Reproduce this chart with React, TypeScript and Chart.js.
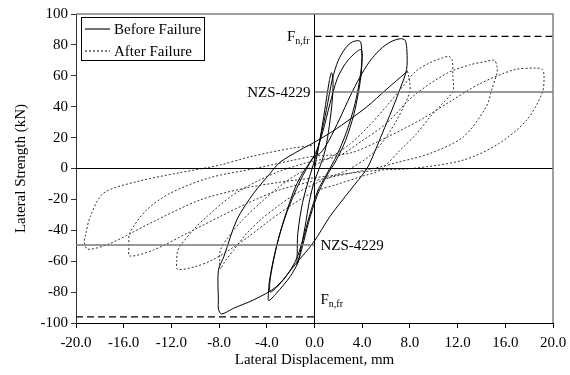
import React, { useEffect, useRef } from 'react';
import { Chart, registerables } from 'chart.js';

Chart.register(...registerables);

// ---- Data ----
const X_MIN = -20;
const X_MAX = 20;
const X_STEP = 4;
const Y_MIN = -100;
const Y_MAX = 100;
const Y_STEP = 20;

const SERIES_BEFORE = 'Before Failure';
const SERIES_AFTER = 'After Failure';

const BEFORE_X = [
  0, 0.3, 0.7, 1.0, 1.25, 1.42, 1.55, 1.5, 1.25, 0.9, 0.4, 0, -0.4, -0.8, -1.2, -1.45, -1.45, -1.4, -1.0, -0.4, 0,
  0.5, 1.0, 1.5, 2.0, 2.6, 3.2, 3.8, 3.95, 3.95, 3.7, 3.3, 2.6, 1.8, 1.0, 0.2, -0.5, -1.0, -1.4, -2.05, -3.2, -3.85, -3.85, -3.8, -3.45, -2.9, -2.3, -1.6, -1.0, -0.3, 0.2,
  0.7, 1.3, 1.9, 2.6, 3.3, 3.9, 4.0, 3.8, 3.4, 2.7, 1.9, 1.0, 0.3, -0.4, -1.0, -1.6, -2.4, -3.2, -3.7, -3.75, -3.5, -3.0, -2.3, -1.5, -0.8, 0,
  0.5, 1.2, 2.1, 3.0, 3.8, 4.6, 5.5, 6.4, 7.2, 7.6, 7.75, 7.72, 7.2, 6.5, 5.7, 5.0, 4.4, 3.0, 1.3, -0.1, -1.5, -3.2, -5.1, -6.8, -7.8, -8.05, -8.06, -8.06, -7.6, -6.5, -5.1, -3.7, -2.9, -1.2, 0, 1.5, 3.0, 4.4, 6.0, 7.2, 7.8,
];
const BEFORE_Y = [
  0, 12, 30, 45, 57, 62, 58, 45, 28, 12, 0, -8, -20, -38, -54, -62, -55, -42, -22, -5, 5,
  20, 38, 58, 70, 78, 82, 82.5, 78, 64, 50, 35, 18, 5, -5, -18, -35, -50, -61, -70, -80.8, -85.5, -80, -74, -59, -42, -27, -12, -3, 5, 12,
  24, 42, 58, 68, 74, 77, 72, 58, 42, 24, 9, -4, -14, -30, -47, -60, -70, -77, -80, -74, -62, -45, -28, -13, -2, 8,
  10, 18, 32, 47, 59, 69, 77, 82, 84, 83, 76, 64, 52, 38, 23, 10, 0, -14, -31, -48, -61, -76.5, -85, -90.5, -94.2, -91, -85, -66, -57, -33, -16, -3, 4, 12, 17, 24, 32, 40, 51, 59, 63,
];

const AFTER_X = [
  7.8, 7.95, 8.0, 7.6, 6.8, 5.8, 4.6, 3.0, 1.5, 0, -1.5, -3, -4.5, -5.8, -6.8, -7.5, -7.9, -7.95, -7.9, -7.3, -6, -4.5, -3, -1.5, 0,
  1.5, 3, 4.5, 6, 7.5, 8.5, 9.7, 10.7, 11.3, 11.55, 11.6, 11.6, 10.6, 9.7, 8.5, 7.2, 5.5, 4, 2, 0, -2, -4, -5.5, -7, -8.5, -10, -11.5, -11.55, -11.5, -11.3, -10.2, -9, -7, -5, -3, -1, 0,
  2, 4, 6, 8.3, 11.1, 13, 14.5, 15.1, 15.3, 15.3, 14.9, 14.4, 12.5, 9.7, 7, 5.5, 3, 0, -3, -5.5, -7.9, -10.7, -13.5, -15.5, -15.55, -15.5, -14.1, -12.1, -8.8, -5, -2, 0,
  3, 6, 9, 11.5, 13.9, 16.7, 18.5, 19.1, 19.25, 19.1, 17.8, 15.5, 12.5, 8.3, 5.5, 2, 0, -3, -6, -9.6, -13.8, -17.1, -19, -19.3, -19.2, -18.8, -17.7, -14.9, -11.3, -7.9, -5.4, -2, 0,
];
const AFTER_Y = [
  63, 58, 50, 42, 30, 18, 8, 0, -5, -10, -16, -24, -33, -43, -53, -60, -65, -60, -53, -45, -33, -22, -12, -4, 2,
  8, 16, 27, 40, 54, 63, 68.5, 71.5, 72.5, 70, 60, 50, 41, 33.5, 22, 12, -1, -5, -10, -15, -24, -35, -44, -52, -59, -63.5, -65.2, -60, -54, -50.6, -40, -31, -18, -9, -2, 3, 5,
  8, 18, 29, 47, 61.6, 67, 69.5, 70, 66, 61.6, 52, 40, 20.6, 9.8, 4, 1, -3, -8, -14, -22, -31, -42, -52.7, -56.6, -50, -42, -27, -16, -6, 0, 5, 8,
  10, 20, 32, 44, 55, 63.8, 65, 64.2, 60, 49, 31.4, 16.3, 5.5, 0.1, -1, -4, -6, -9, -13, -20.4, -35.5, -48.4, -52.3, -48, -43, -31, -16, -8.5, -2.7, 2.3, 7.6, 13, 15,
];

// Reference levels
const NZS_LEVEL = 49.5;
const FNFR_UPPER = 85.5;
const FNFR_LOWER = -96;
const NZS_LABEL = 'NZS-4229';
const F_MAIN = 'F';
const F_SUB = 'n,fr';

const X_TITLE = 'Lateral Displacement, mm';
const Y_TITLE = 'Lateral Strength (kN)';

const FONT_FAMILY = '"Liberation Serif", "Times New Roman", serif';

const pts = (xs: number[], ys: number[]) => xs.map((x, i) => ({ x, y: ys[i] }));

const overlayPlugin = {
  id: 'overlay',
  afterDraw(chart: any) {
    const { ctx, chartArea } = chart;
    const xs = chart.scales.x;
    const ys = chart.scales.y;
    const { left, right, top } = chartArea;
    ctx.save();
    // top and right frame
    ctx.strokeStyle = '#808080';
    ctx.lineWidth = 1.5;
    ctx.beginPath();
    ctx.moveTo(left, top);
    ctx.lineTo(right, top);
    ctx.lineTo(right, chartArea.bottom);
    ctx.stroke();

    const x0 = xs.getPixelForValue(0);
    ctx.fillStyle = '#000';
    ctx.textBaseline = 'alphabetic';
    ctx.font = `15px ${FONT_FAMILY}`;
    // NZS labels
    const yNzsU = ys.getPixelForValue(NZS_LEVEL);
    const yNzsL = ys.getPixelForValue(-NZS_LEVEL);
    ctx.textAlign = 'right';
    ctx.fillText(NZS_LABEL, x0 - 4, yNzsU + 5);
    ctx.textAlign = 'left';
    ctx.fillText(NZS_LABEL, x0 + 6, yNzsL + 5);

    // F n,fr labels
    const drawF = (xStart: number, baseline: number) => {
      ctx.textAlign = 'left';
      ctx.font = `15px ${FONT_FAMILY}`;
      ctx.fillText(F_MAIN, xStart, baseline);
      const wF = ctx.measureText(F_MAIN).width;
      ctx.font = `10px ${FONT_FAMILY}`;
      ctx.fillText(F_SUB, xStart + wF, baseline + 3);
    };
    ctx.font = `15px ${FONT_FAMILY}`;
    const wF = ctx.measureText(F_MAIN).width;
    ctx.font = `10px ${FONT_FAMILY}`;
    const wS = ctx.measureText(F_SUB).width;
    const yFU = ys.getPixelForValue(FNFR_UPPER);
    drawF(x0 - 5 - wF - wS, yFU + 5);
    const yFL = ys.getPixelForValue(FNFR_LOWER);
    drawF(x0 + 6, yFL - 13);

    // Legend (inside plot, top-left)
    const bx = left + 5, by = top + 3, bw = 123, bh = 43;
    ctx.fillStyle = '#fff';
    ctx.fillRect(bx, by, bw, bh);
    ctx.strokeStyle = '#000';
    ctx.lineWidth = 1;
    ctx.strokeRect(bx + 0.5, by + 0.5, bw, bh);
    ctx.lineWidth = 1.1;
    ctx.beginPath();
    ctx.moveTo(bx + 4, by + 12);
    ctx.lineTo(bx + 29, by + 12);
    ctx.stroke();
    ctx.setLineDash([2, 2]);
    ctx.lineWidth = 1;
    ctx.beginPath();
    ctx.moveTo(bx + 4, by + 34);
    ctx.lineTo(bx + 29, by + 34);
    ctx.stroke();
    ctx.setLineDash([]);
    ctx.fillStyle = '#000';
    ctx.font = `15px ${FONT_FAMILY}`;
    ctx.textAlign = 'left';
    ctx.fillText(SERIES_BEFORE, bx + 33, by + 17);
    ctx.fillText(SERIES_AFTER, bx + 33, by + 39);
    ctx.restore();
  },
};

export default function App() {
  const canvasRef = useRef<HTMLCanvasElement | null>(null);

  useEffect(() => {
    if (!canvasRef.current) return;
    const prevMargin = document.body.style.margin;
    document.body.style.margin = '0';
    const line = (data: any[], color: string, width: number, dash: number[] = []) => ({
      data,
      borderColor: color,
      borderWidth: width,
      borderDash: dash,
      showLine: true,
      pointRadius: 0,
      fill: false,
      tension: 0,
    });
    const chart = new Chart(canvasRef.current, {
      type: 'scatter',
      data: {
        datasets: [
          line([{ x: X_MIN, y: 0 }, { x: X_MAX, y: 0 }], '#000', 1),
          line([{ x: 0, y: Y_MIN }, { x: 0, y: Y_MAX }], '#000', 1),
          line([{ x: 0, y: NZS_LEVEL }, { x: X_MAX, y: NZS_LEVEL }], '#777', 1.6),
          line([{ x: X_MIN, y: -NZS_LEVEL }, { x: 0, y: -NZS_LEVEL }], '#777', 1.6),
          line([{ x: 0, y: FNFR_UPPER }, { x: X_MAX, y: FNFR_UPPER }], '#000', 1.2, [7, 4]),
          line([{ x: X_MIN, y: FNFR_LOWER }, { x: 0, y: FNFR_LOWER }], '#000', 1.2, [7, 4]),
          { ...line(pts(AFTER_X, AFTER_Y), '#333', 1, [2, 2]), label: SERIES_AFTER, tension: 0.3 },
          { ...line(pts(BEFORE_X, BEFORE_Y), '#000', 1), label: SERIES_BEFORE, tension: 0.3 },
        ],
      },
      options: {
        animation: false,
        responsive: false,
        maintainAspectRatio: false,
        devicePixelRatio: 1,
        layout: { padding: { top: 14, right: 17, left: 0, bottom: 0 } },
        plugins: { legend: { display: false }, tooltip: { enabled: false } },
        scales: {
          x: {
            type: 'linear',
            min: X_MIN,
            max: X_MAX,
            afterFit: (s: any) => { s.height = 52; s.paddingLeft = 0; s.paddingRight = 0; },
            border: { color: '#000', width: 1 },
            grid: { drawOnChartArea: false, drawTicks: true, tickLength: 5, color: '#000' },
            ticks: {
              stepSize: X_STEP,
              autoSkip: false,
              maxRotation: 0,
              padding: 6,
              color: '#000',
              font: { family: FONT_FAMILY, size: 15 },
              callback: (v: any) => Number(v).toFixed(1),
            },
            title: {
              display: true,
              text: X_TITLE,
              color: '#000',
              font: { family: FONT_FAMILY, size: 15 },
              padding: { top: 0, bottom: 6 },
            },
          },
          y: {
            type: 'linear',
            min: Y_MIN,
            max: Y_MAX,
            afterFit: (s: any) => { s.width = 76; s.paddingTop = 0; s.paddingBottom = 0; },
            border: { color: '#333', width: 1 },
            grid: { drawOnChartArea: false, drawTicks: true, tickLength: 5, color: '#333' },
            ticks: {
              stepSize: Y_STEP,
              padding: 3,
              color: '#000',
              font: { family: FONT_FAMILY, size: 15 },
              callback: (v: any) => String(v),
            },
            title: {
              display: true,
              text: Y_TITLE,
              color: '#000',
              font: { family: FONT_FAMILY, size: 15 },
              padding: { top: 12, bottom: 0 },
            },
          },
        },
      },
      plugins: [overlayPlugin],
    });
    return () => {
      chart.destroy();
      document.body.style.margin = prevMargin;
    };
  }, []);

  return (
    <canvas
      ref={canvasRef}
      width={570}
      height={375}
      style={{ display: 'block', width: 570, height: 375 }}
    />
  );
}
